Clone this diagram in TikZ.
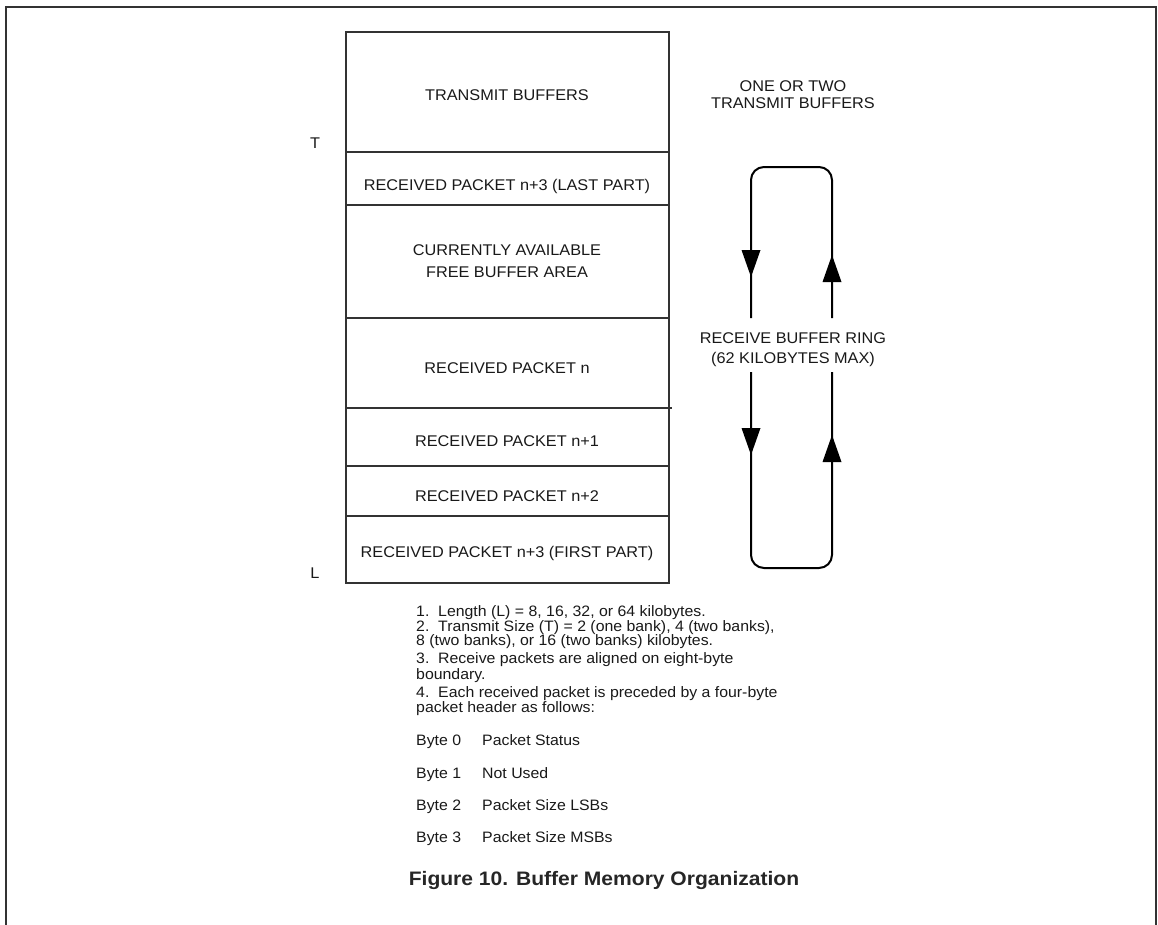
\documentclass[tikz,border=0pt]{standalone}
\usepackage{fontspec}
\setmainfont{Liberation Sans}[FakeStretch=1.05]
\newfontfamily\capfont{Liberation Sans}[FakeStretch=1.08]
\begin{document}
\begin{tikzpicture}[x=1pt,y=-1pt,
  boxline/.style={draw=black!80, line width=1.4pt},
  boxtxt/.style={anchor=base, inner sep=0pt, font=\fontsize{15.5}{18}\selectfont, text=black!90},
  notetxt/.style={anchor=base west, inner sep=0pt, font=\fontsize{15.1}{18}\selectfont, text=black!90},
  ringline/.style={draw=black, line width=2pt, rounded corners=13pt},
  tri/.pic={\fill[black] (0,0) -- (-9.5,-27) -- (9.5,-27) -- cycle;}
]
\useasboundingbox (0,0) rectangle (1158,924);
% outer frame (open at bottom)
\draw[black!80, line width=2pt] (6,940) -- (6,7) -- (1156,7) -- (1156,940);

% memory map
\coordinate (tl) at (346,32);
\coordinate (br) at (669,583);
\draw[boxline] (tl) rectangle (br);
\foreach \yy in {152,205,318,466,516} \draw[boxline] (346,\yy) -- (669,\yy);
\draw[boxline] (346,408) -- (672,408);

\node[boxtxt] (tx)  at (507,100) {TRANSMIT BUFFERS};
\node[boxtxt] (rl)  at (507,190) {RECEIVED PACKET n+3 (LAST PART)};
\node[boxtxt] (fa1) at (507,255) {CURRENTLY AVAILABLE};
\node[boxtxt] (fa2) at (507,277) {FREE BUFFER AREA};
\node[boxtxt] (rn)  at (507,373) {RECEIVED PACKET n};
\node[boxtxt] (rn1) at (507,446) {RECEIVED PACKET n+1};
\node[boxtxt] (rn2) at (507,501) {RECEIVED PACKET n+2};
\node[boxtxt] (rf)  at (507,557) {RECEIVED PACKET n+3 (FIRST PART)};
\node[boxtxt] (T) at (315,148) {T};
\node[boxtxt] (L) at (315,578) {L};

% ring
\node[boxtxt] (one)  at (793,91)  {ONE OR TWO};
\node[boxtxt] (two)  at (793,108) {TRANSMIT BUFFERS};
\node[boxtxt] (rbr)  at (793,343) {RECEIVE BUFFER RING};
\node[boxtxt] (kb)   at (793,363) {(62 KILOBYTES MAX)};
\coordinate (lu) at (751,318);
\coordinate (ru) at (832,318);
\coordinate (ll) at (751,372);
\coordinate (rl2) at (832,372);
\draw[ringline] (lu) -- (751,167) -- (832,167) -- (ru);
\draw[ringline] (ll) -- (751,568) -- (832,568) -- (rl2);
\pic at (751,277) {tri};
\pic[rotate=180] at (832,255) {tri};
\pic at (751,455) {tri};
\pic[rotate=180] at (832,435) {tri};

% notes
\node[notetxt] (n1) at (416,616) {1.\ \ Length (L) = 8, 16, 32, or 64 kilobytes.};
\node[notetxt] (n2) at (416,631) {2.\ \ Transmit Size (T) = 2 (one bank), 4 (two banks),};
\node[notetxt] (n3) at (416,645) {8 (two banks), or 16 (two banks) kilobytes.};
\node[notetxt] (n4) at (416,663) {3.\ \ Receive packets are aligned on eight-byte};
\node[notetxt] (n5) at (416,679) {boundary.};
\node[notetxt] (n6) at (416,697) {4.\ \ Each received packet is preceded by a four-byte};
\node[notetxt] (n7) at (416,712) {packet header as follows:};
\node[notetxt] (b0) at (416,745) {Byte 0};
\node[notetxt] (b1) at (416,778) {Byte 1};
\node[notetxt] (b2) at (416,810) {Byte 2};
\node[notetxt] (b3) at (416,842) {Byte 3};
\node[notetxt] (d0) at (482,745) {Packet Status};
\node[notetxt] (d1) at (482,778) {Not Used};
\node[notetxt] (d2) at (482,810) {Packet Size LSBs};
\node[notetxt] (d3) at (482,842) {Packet Size MSBs};

% caption
\node[anchor=base, inner sep=0pt, font=\capfont\fontsize{19.5}{22}\selectfont\bfseries, text=black!85] (cap) at (604,885) {Figure 10. Buffer Memory Organization};
\end{tikzpicture}
\end{document}
